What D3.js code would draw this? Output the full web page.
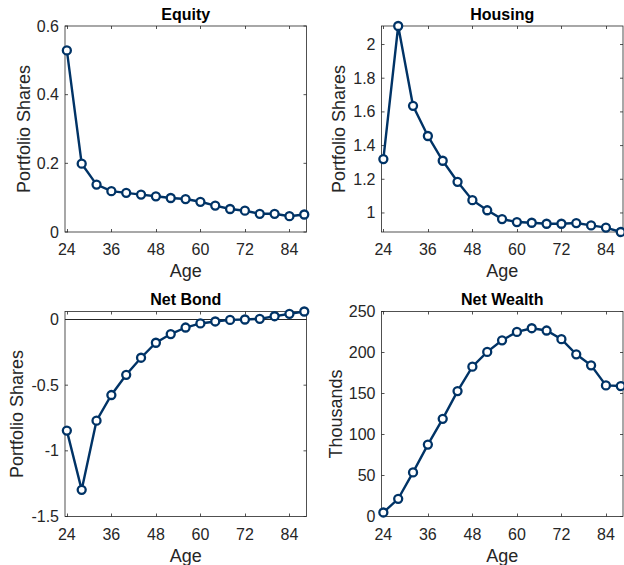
<!DOCTYPE html>
<html>
<head>
<meta charset="utf-8">
<script src="https://cdn.jsdelivr.net/npm/d3@7"></script>
<style>
body{margin:0;background:#fff}
svg{display:block;font-family:"Liberation Sans",Arial,sans-serif}
</style>
</head>
<body>
<svg id="fig" width="624" height="565"></svg>
<script>
var ages = [24,28,32,36,40,44,48,52,56,60,64,68,72,76,80,84,88]
var equity = [0.529,0.199,0.138,0.119,0.114,0.109,0.104,0.099,0.096,0.088,0.077,0.067,0.062,0.053,0.053,0.046,0.051]
var housing = [1.320,2.110,1.636,1.457,1.310,1.185,1.076,1.016,0.964,0.946,0.942,0.936,0.936,0.940,0.926,0.913,0.887]
var netBond = [-0.846,-1.297,-0.770,-0.575,-0.421,-0.291,-0.177,-0.111,-0.061,-0.030,-0.015,-0.003,0.000,0.005,0.025,0.043,0.061]
var netWealth = [4.9,21.6,53.8,87.7,119.1,152.9,182.7,200.7,214.9,225.1,229.6,226.8,216.2,197.8,184.3,159.9,159.1]

var xTicks = [24,36,48,60,72,84]
var equityTicks = [0,0.2,0.4,0.6]
var housingTicks = [1,1.2,1.4,1.6,1.8,2]
var bondTicks = [-1.5,-1,-0.5,0]
var wealthTicks = [0,50,100,150,200,250]

var svg = d3.select("#fig")
var lineColor = "#003366"
var axisColor = "#262626"

function drawPanel(p){
  var x = d3.scaleLinear().domain([23.5,88.6]).range([p.left,p.right])
  var y = d3.scaleLinear().domain(p.ydom).range([p.bottom,p.top])
  var g = svg.append("g")

  // box
  g.append("rect")
    .attr("x",p.left).attr("y",p.top)
    .attr("width",p.right-p.left).attr("height",p.bottom-p.top)
    .attr("fill","none").attr("stroke",axisColor).attr("stroke-width",0.8)

  // ticks inside, mirrored
  xTicks.forEach(t=>{
    var xx = Math.round(x(t))+0.5
    g.append("line").attr("x1",xx).attr("x2",xx).attr("y1",p.bottom).attr("y2",p.bottom-3)
      .attr("stroke",axisColor).attr("stroke-width",0.8)
    g.append("line").attr("x1",xx).attr("x2",xx).attr("y1",p.top).attr("y2",p.top+3)
      .attr("stroke",axisColor).attr("stroke-width",0.8)
    g.append("text").attr("x",x(t)).attr("y",p.bottom+23)
      .attr("text-anchor","middle").attr("font-size","16px").attr("fill",axisColor)
      .text(t)
  })
  p.yticks.forEach(t=>{
    var yy = y(t)
    g.append("line").attr("x1",p.left).attr("x2",p.left+3).attr("y1",yy).attr("y2",yy)
      .attr("stroke",axisColor).attr("stroke-width",0.8)
    g.append("line").attr("x1",p.right).attr("x2",p.right-3).attr("y1",yy).attr("y2",yy)
      .attr("stroke",axisColor).attr("stroke-width",0.8)
    g.append("text").attr("x",p.left-6).attr("y",yy+5.5)
      .attr("text-anchor","end").attr("font-size","16px").attr("fill",axisColor)
      .text(String(t))
  })

  if(p.zeroLine){
    g.append("line").attr("x1",p.left).attr("x2",p.right).attr("y1",y(0)).attr("y2",y(0))
      .attr("stroke",axisColor).attr("stroke-width",1)
  }

  var pts = ages.map((a,i)=>({age:a,v:p.values[i]}))
  var line = d3.line().x(d=>x(d.age)).y(d=>y(d.v))
  g.append("path").datum(pts)
    .attr("d",line).attr("fill","none")
    .attr("stroke",lineColor).attr("stroke-width",2.4)
  g.selectAll(".mk").data(pts).enter()
    .append("circle").classed("mk",true)
    .attr("cx",d=>x(d.age)).attr("cy",d=>y(d.v)).attr("r",4)
    .attr("fill","#fff").attr("stroke",lineColor).attr("stroke-width",2.3)

  // title & labels
  g.append("text").attr("x",(p.left+p.right)/2).attr("y",p.top-6.5)
    .attr("text-anchor","middle").attr("font-size","16px").attr("font-weight","bold")
    .attr("fill","#000").text(p.title)
  g.append("text").attr("x",(p.left+p.right)/2).attr("y",p.bottom+45)
    .attr("text-anchor","middle").attr("font-size","18px").attr("fill",axisColor)
    .text("Age")
  g.append("text")
    .attr("transform",`translate(${p.ylabX},${(p.top+p.bottom)/2}) rotate(-90)`)
    .attr("text-anchor","middle").attr("font-size","18px").attr("fill",axisColor)
    .text(p.ylabel)
}

drawPanel({title:"Equity",values:equity,ydom:[0,0.6],yticks:equityTicks,
  left:65,right:306.5,top:26,bottom:232,ylabel:"Portfolio Shares",ylabX:30})
drawPanel({title:"Housing",values:housing,ydom:d3.extent(housing),yticks:housingTicks,
  left:381.5,right:623,top:26,bottom:232,ylabel:"Portfolio Shares",ylabX:345})
drawPanel({title:"Net Bond",values:netBond,ydom:[-1.5,d3.max(netBond)],yticks:bondTicks,zeroLine:true,
  left:65,right:306.5,top:311.5,bottom:516.5,ylabel:"Portfolio Shares",ylabX:23})
drawPanel({title:"Net Wealth",values:netWealth,ydom:[0,250],yticks:wealthTicks,
  left:381.5,right:623,top:311.5,bottom:516.5,ylabel:"Thousands",ylabX:342})
</script>
</body>
</html>
